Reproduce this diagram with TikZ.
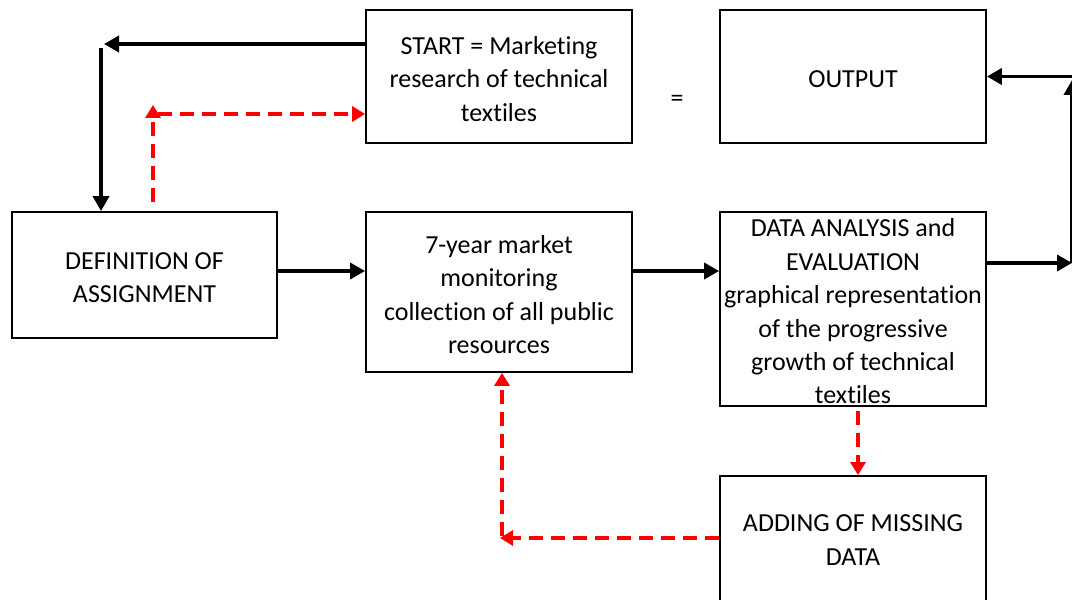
\documentclass[tikz,border=0pt]{standalone}
\usepackage{fontspec}
\setmainfont{Carlito}[Ligatures=NoCommon]
\usetikzlibrary{arrows.meta}
\begin{document}
\begin{tikzpicture}[x=1pt,y=1pt,
  box/.style={draw=black, line width=1.8pt, inner sep=0pt},
  txt/.style={align=center, inner sep=0pt, yshift=-2.5pt,
    font=\fontsize{26}{33.4}\selectfont},
  flow/.style={line width=3.6pt, -{Triangle[length=15pt,width=16pt]}},
  back/.style={draw=red, line width=3.6pt, dash pattern=on 14pt off 8pt,
    -{Triangle[length=13pt,width=15pt]}}]
\useasboundingbox (0,0) rectangle (1072,600);
\clip (0,0) rectangle (1072,600);

% process boxes, their text set as a centred label
\node[box, minimum width=266pt, minimum height=133pt,
  label={[txt]center:{START = Marketing\\research of technical\\textiles}}]
  (start) at (499,523.5) {};
\node[box, minimum width=266pt, minimum height=133pt,
  label={[txt]center:{OUTPUT}}]
  (output) at (853,523.5) {};
\node[box, minimum width=265pt, minimum height=126pt,
  label={[txt]center:{DEFINITION OF\\ASSIGNMENT}}]
  (def) at (144.5,325) {};
\node[box, minimum width=266pt, minimum height=160pt,
  label={[txt]center:{7-year market\\monitoring\\collection of all public\\resources}}]
  (mon) at (499,308) {};
\node[box, minimum width=266pt, minimum height=194pt,
  label={[txt]center:{DATA ANALYSIS and\\EVALUATION\\graphical representation\\of the progressive\\growth of technical\\textiles}}]
  (anal) at (853,291) {};
\node[box, minimum width=266pt, minimum height=128pt,
  label={[txt,yshift=2.5pt]center:{ADDING OF MISSING\\DATA}}]
  (add) at (853,60) {};
\node[txt] (eq) at (677,502) {=};

% free ends of connectors
\coordinate (tlh) at (104,556);
\coordinate (tlv) at (101,552);
\coordinate (rv0) at (153,398);
\coordinate (rv1) at (153,495);
\coordinate (rh0) at (158,486);
\coordinate (re1) at (1072,337);
\coordinate (re2) at (1072,520);
\coordinate (re3) at (1073,523.5);
\coordinate (bc) at (500,62);
\coordinate (bv) at (502,64);

% main flow
\draw[flow] ([yshift=32.5pt]start.west) -- (tlh);
\draw[flow] (tlv) -- (tlv |- def.north);
\draw[flow] ([yshift=4pt]def.east) -- ([yshift=4pt]def.east -| mon.west);
\draw[flow] ([yshift=21pt]mon.east) -- ([yshift=21pt]mon.east -| anal.west);
\draw[flow] ([yshift=46pt]anal.east) -- (re1);
\draw[flow] (re1) -- (re2);
\draw[flow] (re3) -- (output.east);

% feedback loops
\draw[back] (rv0) -- (rv1);
\draw[back] (rh0) -- (rh0 -| start.west);
\draw[back] ([xshift=5pt,yshift=-4pt]anal.south) -- ([xshift=5pt]add.north);
\draw[back] ([yshift=2pt]add.west) -- (bc);
\draw[back] (bv) -- (bv |- mon.south);
\end{tikzpicture}
\end{document}
